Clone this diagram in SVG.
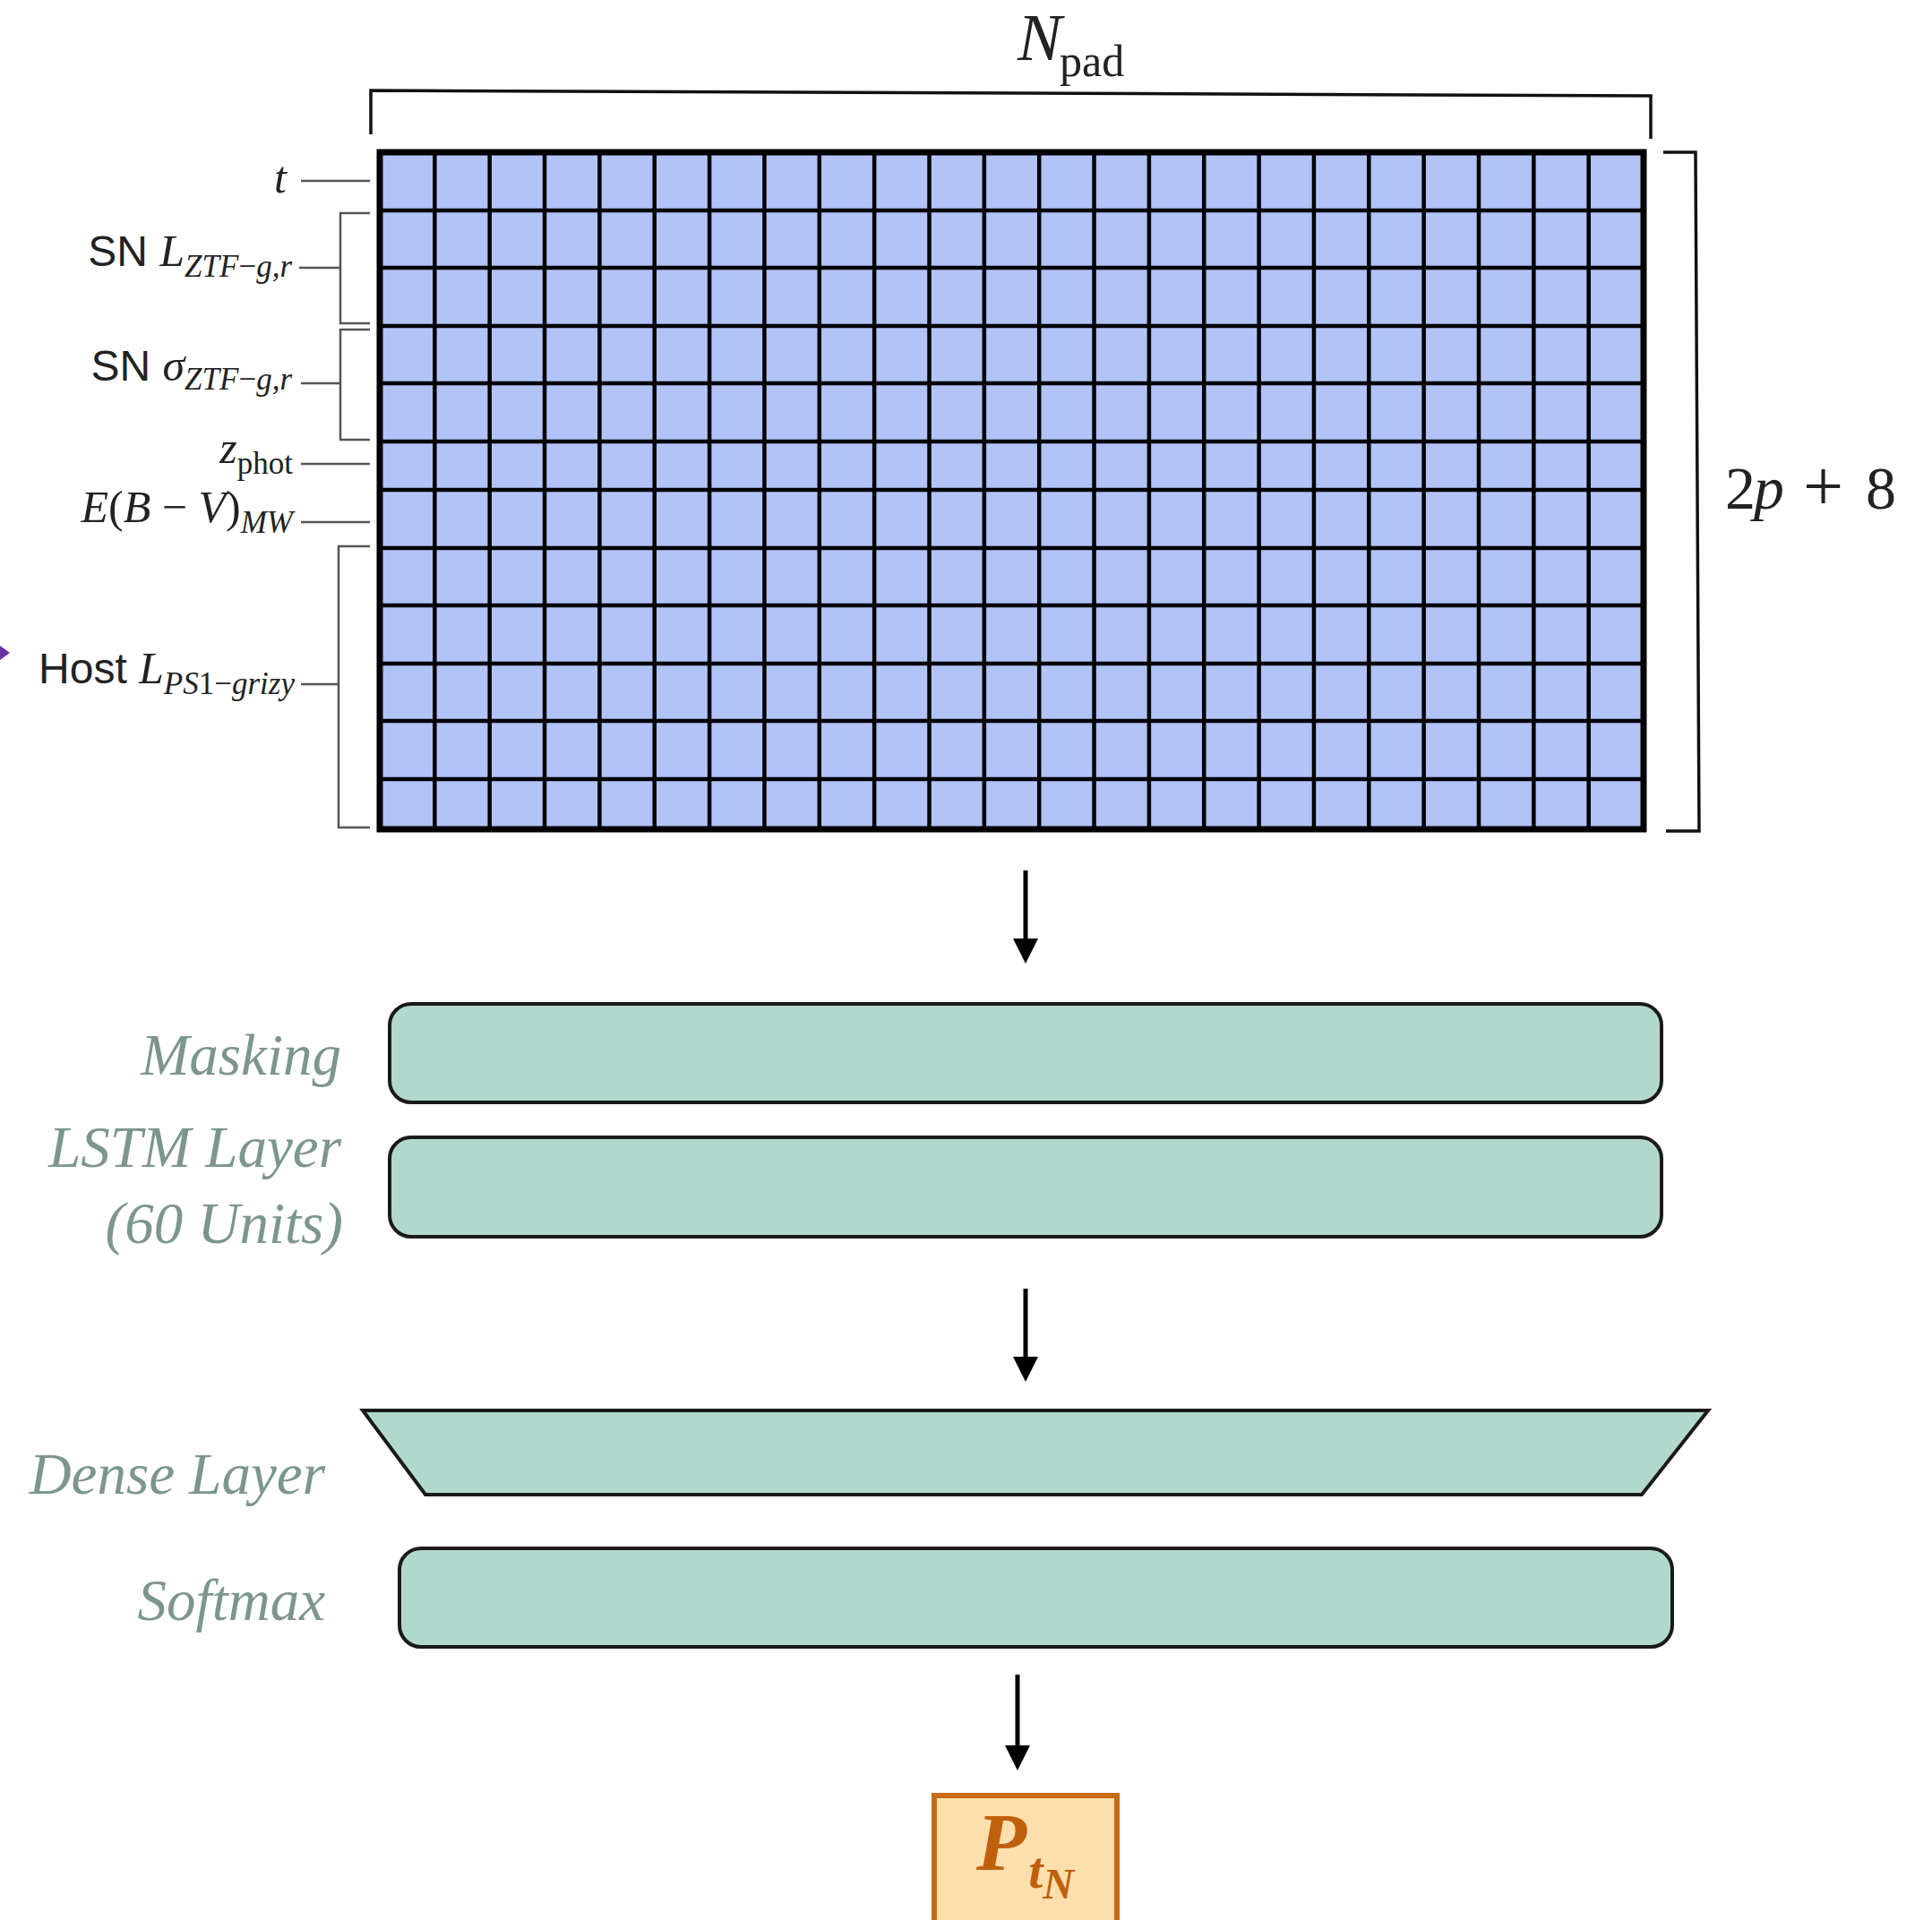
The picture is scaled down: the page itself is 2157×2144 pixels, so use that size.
<svg xmlns="http://www.w3.org/2000/svg" width="2157" height="2144" viewBox="0 0 2157 2144">
<style>
.math{font-family:"Liberation Serif","Times New Roman",serif;font-style:italic;fill:#222}
.rm{font-style:normal}
.sans{font-family:"Liberation Sans",Arial,sans-serif;font-style:normal;fill:#222}
.tick{fill:none;stroke:#555;stroke-width:2.5}
.brk{fill:none;stroke:#111;stroke-width:3.5}
.lbl{font-family:"Liberation Serif","Times New Roman",serif;font-style:italic;font-size:65px;fill:#7c968e;text-anchor:end}
.layer{fill:#b2d8cd;stroke:#1a1a1a;stroke-width:4}
.conn{fill:none;stroke:#000;stroke-width:5}
</style>
<defs>
<marker id="ah" viewBox="0 0 28 28" refX="8" refY="14" markerWidth="28" markerHeight="28" markerUnits="userSpaceOnUse" orient="auto">
<path d="M0,0 L28,14 L0,28 Z" fill="#000"/>
</marker>
</defs>
<rect width="2157" height="2144" fill="#fff"/>

<g id="grid">
<rect x="424" y="170" width="1411" height="756" fill="#b1c3f7"/>
<path d="M485.35,170V926M546.7,170V926M608.05,170V926M669.4,170V926M730.75,170V926M792.1,170V926M853.45,170V926M914.8,170V926M976.15,170V926M1037.5,170V926M1098.85,170V926M1160.2,170V926M1221.55,170V926M1282.9,170V926M1344.25,170V926M1405.6,170V926M1466.95,170V926M1528.3,170V926M1589.65,170V926M1651,170V926M1712.35,170V926M1773.7,170V926" stroke="#000" stroke-width="4.5" fill="none"/>
<path d="M424,235H1835M424,299H1835M424,364H1835M424,428H1835M424,493H1835M424,547H1835M424,612H1835M424,676H1835M424,741H1835M424,805H1835M424,870H1835" stroke="#000" stroke-width="4.5" fill="none"/>
<rect x="424" y="170" width="1411" height="756" fill="none" stroke="#000" stroke-width="7"/>
</g>

<g id="npad-bracket">
<path class="brk" d="M414,150V101L1843,107V155"/>
<text class="math" x="1136" y="67" font-size="74">N</text>
<text class="math rm" x="1183" y="85" font-size="50">pad</text>
</g>

<g id="rows-bracket">
<path class="brk" d="M1857,170H1893L1897,928H1860"/>
<text class="math rm" y="568" font-size="68"><tspan x="1926">2</tspan><tspan x="1958" font-style="italic">p</tspan><tspan x="2013" font-size="80" dy="2">+</tspan><tspan x="2083" dy="-2">8</tspan></text>
</g>

<g id="row-labels">
<path class="tick" d="M336,202H413"/>
<text class="math" x="320" y="215" font-size="50" text-anchor="end">t</text>

<path class="tick" d="M334,299H380M413,238H380V361H413"/>
<text class="math" x="326" y="297" font-size="50" text-anchor="end"><tspan class="sans" font-size="48">SN </tspan><tspan>L</tspan><tspan font-size="35" dy="12">ZTF<tspan class="rm">−</tspan>g,r</tspan></text>

<path class="tick" d="M336,428H380M413,368H380V491H413"/>
<text class="math" x="326" y="425" font-size="50" text-anchor="end"><tspan class="sans" font-size="48">SN </tspan><tspan>σ</tspan><tspan font-size="35" dy="10">ZTF<tspan class="rm">−</tspan>g,r</tspan></text>

<path class="tick" d="M336,518H413"/>
<text class="math" x="327" y="517" font-size="50" text-anchor="end">z<tspan class="rm" font-size="35" dy="12">phot</tspan></text>

<path class="tick" d="M336,583H413"/>
<text class="math" x="327" y="583" font-size="50" text-anchor="end">E<tspan class="rm">(</tspan>B<tspan class="rm"> − </tspan>V<tspan class="rm">)</tspan><tspan font-size="35" dy="12">MW</tspan></text>

<path class="tick" d="M336,764H378M413,610H378V924H413"/>
<text class="math" x="329" y="763" font-size="50" text-anchor="end"><tspan class="sans" font-size="48">Host </tspan><tspan>L</tspan><tspan font-size="35" dy="12">PS<tspan class="rm">1−</tspan>grizy</tspan></text>

<polygon points="0,721 11,729 0,737" fill="#6b2fa0"/>
</g>

<g id="masking">
<rect class="layer" x="435" y="1121" width="1420" height="110" rx="24"/>
<text class="lbl" x="381" y="1200">Masking</text>
</g>

<g id="lstm">
<rect class="layer" x="435" y="1270" width="1420" height="111" rx="24"/>
<text class="lbl" x="381" y="1303">LSTM Layer</text>
<text class="lbl" x="383" y="1388">(60 Units)</text>
</g>

<g id="dense">
<polygon class="layer" points="405,1575 1907,1575 1833,1669 475,1669"/>
<text class="lbl" x="363" y="1668" font-size="64">Dense Layer</text>
</g>

<g id="softmax">
<rect class="layer" x="446" y="1729" width="1421" height="110" rx="24"/>
<text class="lbl" x="363" y="1809">Softmax</text>
</g>

<g id="output">
<rect x="1043" y="2005" width="204" height="170" fill="#fddfae" stroke="#c86c14" stroke-width="6"/>
<text x="1090" y="2088" font-family="'Liberation Serif','Times New Roman',serif" font-style="italic" font-weight="bold" fill="#c0600c" font-size="92">P<tspan font-size="58" dx="2" dy="20">t</tspan><tspan font-size="48" dy="12">N</tspan></text>
</g>

<g id="connectors">
<path class="conn" d="M1145,972V1056" marker-end="url(#ah)"/>
<path class="conn" d="M1145,1439V1523" marker-end="url(#ah)"/>
<path class="conn" d="M1136,1870V1957" marker-end="url(#ah)"/>
</g>
</svg>
